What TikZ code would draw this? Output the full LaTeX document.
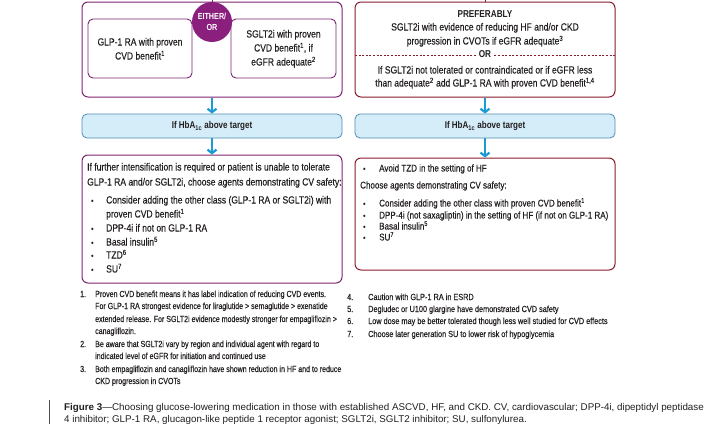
\documentclass[tikz,border=0pt]{standalone}
\usepackage{fontspec}
\setmainfont{Liberation Sans}
\newfontfamily\dfont{Liberation Sans}[FakeStretch=0.82, UprightFeatures={FakeBold=0.3}]
\newfontfamily\ffont{Liberation Sans}[FakeStretch=0.83, UprightFeatures={FakeBold=0.3}]
\newfontfamily\gfont{Liberation Sans}[FakeStretch=0.8, UprightFeatures={FakeBold=0.3}]
\newfontfamily\cfont{Liberation Sans}
\usetikzlibrary{arrows.meta}
\definecolor{purp}{HTML}{7D2470}
\definecolor{circ}{HTML}{8B1F7D}
\definecolor{dred}{HTML}{8A1B2D}
\definecolor{arr}{HTML}{1C9AD6}
\definecolor{lbfill}{HTML}{D4EDF9}
\definecolor{lbdraw}{HTML}{4F8DB3}
\definecolor{txt}{HTML}{231F20}
\begin{document}
\begin{tikzpicture}[x=1pt,y=-1pt,
  pbox/.style={draw=purp, line width=1pt, rounded corners=6pt, inner sep=0pt},
  ibox/.style={draw=purp, line width=0.9pt, rounded corners=5pt, inner sep=0pt},
  rbox/.style={draw=dred, line width=1pt, rounded corners=6pt, inner sep=0pt},
  hbox/.style={draw=lbdraw, fill=lbfill, line width=0.8pt, rounded corners=5pt, inner sep=0pt,
    font=\dfont\bfseries\fontsize{9.8}{12}\selectfont, text=txt},
  flow/.style={draw=arr, line width=2.2pt, -{Straight Barb[length=3.5pt,width=9pt]}},
  tx/.style={font=\dfont\fontsize{10.4}{12}\selectfont, text=txt, inner sep=0pt,
    text height=7pt, text depth=2pt, anchor=west},
  txs/.style={tx, font=\dfont\fontsize{9.8}{12}\selectfont},
  txc/.style={tx, anchor=center},
  txb/.style={txc, font=\dfont\bfseries\fontsize{10}{12}\selectfont},
  fn/.style={font=\ffont\fontsize{8.8}{11}\selectfont, text=txt, inner sep=0pt,
    text height=6pt, text depth=2pt, anchor=west},
  fnl/.style={fn, font=\gfont\fontsize{8.8}{11}\selectfont},
  captxt/.style={font=\cfont\fontsize{9.8}{11}\selectfont, text=txt, inner sep=0pt,
    text height=6.5pt, text depth=2pt, anchor=west},
  bul/.style={tx, font=\dfont\fontsize{8}{10}\selectfont}
]
\useasboundingbox (0,0) rectangle (720,442);
\fill[white] (0,0) rectangle (720,442);

% ---- top boxes
\node[pbox, minimum width=260, minimum height=95] (lout) at (212,49.5) {};
\node[ibox, minimum width=104, minimum height=59] (lin1) at (140,48.5) {};
\node[ibox, minimum width=105, minimum height=59] (lin2) at (283.5,48.5) {};
\node[circle, fill=circ, minimum size=40, inner sep=0pt, align=center, text=white,
  font=\dfont\bfseries\fontsize{8.8}{11.5}\selectfont] (either) at (212,22) {EITHER/\\OR};
\coordinate (ltop) at (212,-3);
\draw[purp, line width=1pt] (ltop) -- (lout.north);

\node[txc] (g1) at (140,43) {GLP-1 RA with proven};
\node[txc] (g2) at (140,57) {CVD benefit\textsuperscript{1}};
\node[txc] (s1) at (283.5,35) {SGLT2i with proven};
\node[txc] (s2) at (283.5,49) {CVD benefit\textsuperscript{1}, if};
\node[txc] (s3) at (283.5,63) {eGFR adequate\textsuperscript{2}};

\node[rbox, minimum width=260, minimum height=95] (rout) at (485,49.5) {};
\coordinate (rtop) at (485,-3);
\draw[dred, line width=1pt] (rtop) -- (rout.north);
\node[txb] (pref) at (485,15) {PREFERABLY};
\node[txc] (r1) at (485,28) {SGLT2i with evidence of reducing HF and/or CKD};
\node[txc] (r2) at (485,42) {progression in CVOTs if eGFR adequate\textsuperscript{3}};
\node[txb, fill=white, inner xsep=3pt] (ror) at (485,55) {OR};
\coordinate (dl) at (355,55);
\coordinate (dr) at (615,55);
\draw[dred, line width=0.8pt, dash pattern=on 2pt off 1.6pt] (dl) -- (ror.west);
\draw[dred, line width=0.8pt, dash pattern=on 2pt off 1.6pt] (ror.east) -- (dr);
\node[txc] (r3) at (485,71) {If SGLT2i not tolerated or contraindicated or if eGFR less};
\node[txc] (r4) at (485,84) {than adequate\textsuperscript{2} add GLP-1 RA with proven CVD benefit\textsuperscript{1,4}};

% ---- HbA1c boxes
\node[hbox, minimum width=260, minimum height=24] (hl) at (212,126) {If HbA\textsubscript{1c} above target};
\node[hbox, minimum width=260, minimum height=24] (hr) at (485,126) {If HbA\textsubscript{1c} above target};

% ---- bottom boxes
\node[pbox, minimum width=260, minimum height=128] (lb) at (212,219) {};
\node[rbox, minimum width=260, minimum height=112] (rb) at (485,214) {};

\draw[flow] (lout.south) -- (hl.north);
\draw[flow] (rout.south) -- (hr.north);
\draw[flow] (hl.south) -- (lb.north);
\draw[flow] (hr.south) -- (rb.north);

% left bottom text
\node[tx] (a1) at (87,168) {If further intensification is required or patient is unable to tolerate};
\node[tx] (a2) at (87,183) {GLP-1 RA and/or SGLT2i, choose agents demonstrating CV safety:};
\node[bul] (ab1) at (91,201) {\textbullet};
\node[tx] (a3) at (106,201) {Consider adding the other class (GLP-1 RA or SGLT2i) with};
\node[tx] (a4) at (106,215) {proven CVD benefit\textsuperscript{1}};
\node[bul] (ab2) at (91,229) {\textbullet};
\node[tx] (a5) at (106,229) {DPP-4i if not on GLP-1 RA};
\node[bul] (ab3) at (91,243) {\textbullet};
\node[tx] (a6) at (106,243) {Basal insulin\textsuperscript{5}};
\node[bul] (ab4) at (91,256) {\textbullet};
\node[tx] (a7) at (106,256) {TZD\textsuperscript{6}};
\node[bul] (ab5) at (91,270) {\textbullet};
\node[tx] (a8) at (106,270) {SU\textsuperscript{7}};

% right bottom text
\node[bul] (bb1) at (363,169) {\textbullet};
\node[txs] (b1) at (379,169) {Avoid TZD in the setting of HF};
\node[txs] (b2) at (360,186) {Choose agents demonstrating CV safety:};
\node[bul] (bb2) at (363,204) {\textbullet};
\node[txs] (b3) at (379,204) {Consider adding the other class with proven CVD benefit\textsuperscript{1}};
\node[bul] (bb3) at (363,216) {\textbullet};
\node[txs] (b4) at (379,216) {DPP-4i (not saxagliptin) in the setting of HF (if not on GLP-1 RA)};
\node[bul] (bb4) at (363,227) {\textbullet};
\node[txs] (b5) at (379,227) {Basal insulin\textsuperscript{5}};
\node[bul] (bb5) at (363,238) {\textbullet};
\node[txs] (b6) at (379,238) {SU\textsuperscript{7}};

% footnotes left
\node[fnl] (n1) at (80,295) {1.};
\node[fnl] (f1) at (95,295) {Proven CVD benefit means it has label indication of reducing CVD events.};
\node[fnl] (f2) at (95,307) {For GLP-1 RA strongest evidence for liraglutide > semaglutide > exenatide};
\node[fnl] (f3) at (95,320) {extended release. For SGLT2i evidence modestly stronger for empagliflozin >};
\node[fnl] (f4) at (95,332) {canagliflozin.};
\node[fnl] (n2) at (80,345) {2.};
\node[fnl] (f5) at (95,345) {Be aware that SGLT2i vary by region and individual agent with regard to};
\node[fnl] (f6) at (95,357) {indicated level of eGFR for initiation and continued use};
\node[fnl] (n3) at (80,370) {3.};
\node[fnl] (f7) at (95,370) {Both empagliflozin and canagliflozin have shown reduction in HF and to reduce};
\node[fnl] (f8) at (95,382) {CKD progression in CVOTs};

% footnotes right
\node[fn] (n4) at (347,298) {4.};
\node[fn] (f9) at (368,298) {Caution with GLP-1 RA in ESRD};
\node[fn] (n5) at (347,310) {5.};
\node[fn] (f10) at (368,310) {Degludec or U100 glargine have demonstrated CVD safety};
\node[fn] (n6) at (347,322) {6.};
\node[fn] (f11) at (368,322) {Low dose may be better tolerated though less well studied for CVD effects};
\node[fn] (n7) at (347,335) {7.};
\node[fn] (f12) at (368,335) {Choose later generation SU to lower risk of hypoglycemia};

% caption
\coordinate (bar1) at (49,400);
\coordinate (bar2) at (49,424);
\draw[txt!80, line width=1pt] (bar1) -- (bar2);
\node[captxt] (c1) at (64,408) {\textbf{Figure 3}—Choosing glucose-lowering medication in those with established ASCVD, HF, and CKD. CV, cardiovascular; DPP-4i, dipeptidyl peptidase};
\node[captxt] (c2) at (64,420) {4 inhibitor; GLP-1 RA, glucagon-like peptide 1 receptor agonist; SGLT2i, SGLT2 inhibitor; SU, sulfonylurea.};
\end{tikzpicture}
\end{document}
